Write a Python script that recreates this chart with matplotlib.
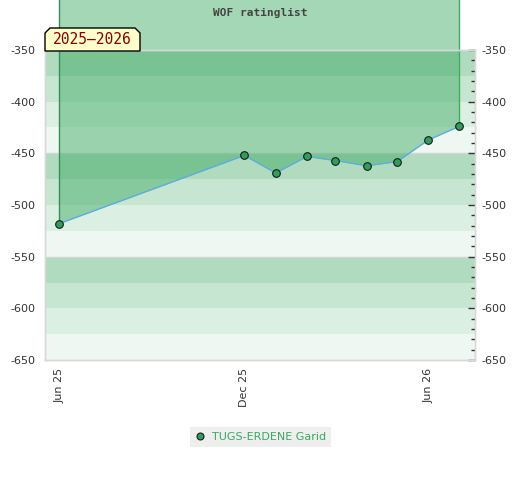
import matplotlib
matplotlib.use("Agg")
import matplotlib.pyplot as plt
import matplotlib.dates as mdates
from matplotlib.lines import Line2D
from matplotlib.patches import Polygon
import numpy as np
import pandas as pd

plt.rcParams['axes.unicode_minus'] = False

# ---- data ----
dates = pd.to_datetime(['2025-06-01', '2025-12-01', '2026-01-01', '2026-02-01',
                        '2026-03-01', '2026-04-01', '2026-05-01', '2026-06-01',
                        '2026-07-01'])
ratings = [-518, -452, -469, -453, -457, -462, -458, -437, -424]
player = 'TUGS-ERDENE Garid'
title = 'WOF ratinglist'
season = '2025–2026'
y_ticks = list(range(-650, -349, 50))
band_colors = ['#b0dbbf', '#c6e6d1', '#dcefe3', '#eef7f1']

W, H = 520, 480
fig = plt.figure(figsize=(W / 100, H / 100), dpi=100)
ax = fig.add_axes([45 / W, 120 / H, 430 / W, 310 / H])

ax.set_ylim(-650, -350)
ax.set_xlim(pd.Timestamp('2025-05-18'), pd.Timestamp('2026-07-17'))

# bands
for k, top in enumerate(range(-350, -650, -25)):
    ax.axhspan(top - 25, top, color=band_colors[k % 4], lw=0, zorder=0)
for yv in (-450, -550):
    ax.axhline(yv, color='#d6d6d6', lw=1, zorder=0.5)

# fill above line, extending past the axes top
fill_color = (0.235, 0.667, 0.39)
ax.fill_between(dates, ratings, -200, color=fill_color, alpha=0.47, lw=0,
                clip_on=False, zorder=1)
ax.plot([dates[0], dates[0]], [ratings[0], -200], color='#358f57', lw=1,
        clip_on=False, zorder=1.5)
ax.plot([dates[-1], dates[-1]], [ratings[-1], -200], color='#3cb060', lw=1,
        clip_on=False, zorder=1.5)

ax.plot(dates, ratings, color='#5dade2', lw=1, marker='o', ms=5.5,
        mfc='#2e9e5b', mec='#1a1a1a', mew=0.8, zorder=3)

# axes styling
for s in ax.spines.values():
    s.set_color('#d8d8d8')
    s.set_linewidth(1)
ax.set_yticks(y_ticks)
ax.tick_params(axis='y', length=0, pad=7, labelsize=8, labelcolor='#333333')
ax.xaxis.set_major_locator(mdates.MonthLocator(bymonth=[6, 12]))
ax.xaxis.set_major_formatter(mdates.DateFormatter('%b %y'))
ax.tick_params(axis='x', length=0, pad=6, labelsize=8, labelcolor='#333333',
               labelrotation=90)

ax2 = ax.twinx()
ax2.set_ylim(-650, -350)
ax2.set_yticks(y_ticks)
ax2.set_yticks(list(range(-650, -349, 10)), minor=True)
ax2.tick_params(axis='y', which='major', direction='in', length=5, width=1,
                color='#333333', pad=5, labelsize=8, labelcolor='#333333')
ax2.tick_params(axis='y', which='minor', direction='in', length=3, width=1,
                color='#333333')
for s in ax2.spines.values():
    s.set_color('#d8d8d8')
    s.set_linewidth(1)

# title
fig.text(260 / W, 1 - 13 / H, title, ha='center', va='center',
         family='DejaVu Sans Mono', weight='bold', size=8, color='#444444')

# season label box with cut corners
x0, x1, yb, yt, c = 45, 140, 51, 28, 5
pts = [(x0, yb), (x1, yb), (x1, yt + c), (x1 - c, yt), (x0 + c, yt), (x0, yt + c)]
pts = [(px / W, 1 - py / H) for px, py in pts]
fig.patches.append(Polygon(pts, closed=True, transform=fig.transFigure,
                           facecolor='#ffffcc', edgecolor='black', lw=1, zorder=5))
fig.text(92 / W, 1 - 40 / H, season, ha='center', va='center',
         family='DejaVu Sans Mono', size=10.5, color='#8b0000', zorder=6)

# legend
handle = Line2D([], [], ls='none', marker='o', ms=5, mfc='#2e9e5b', mec='#1a1a1a', mew=0.8)
leg = fig.legend([handle], [player], loc='center', bbox_to_anchor=(260.5 / W, 1 - 436.5 / H),
                 frameon=True, facecolor='#eeeeee', edgecolor='none', fancybox=False,
                 fontsize=8, handlelength=1, handletextpad=0.6, borderpad=0.45)
leg.get_frame().set_alpha(1)
for t in leg.get_texts():
    t.set_color('#3aa860')

fig.savefig('out.png', dpi=100)
